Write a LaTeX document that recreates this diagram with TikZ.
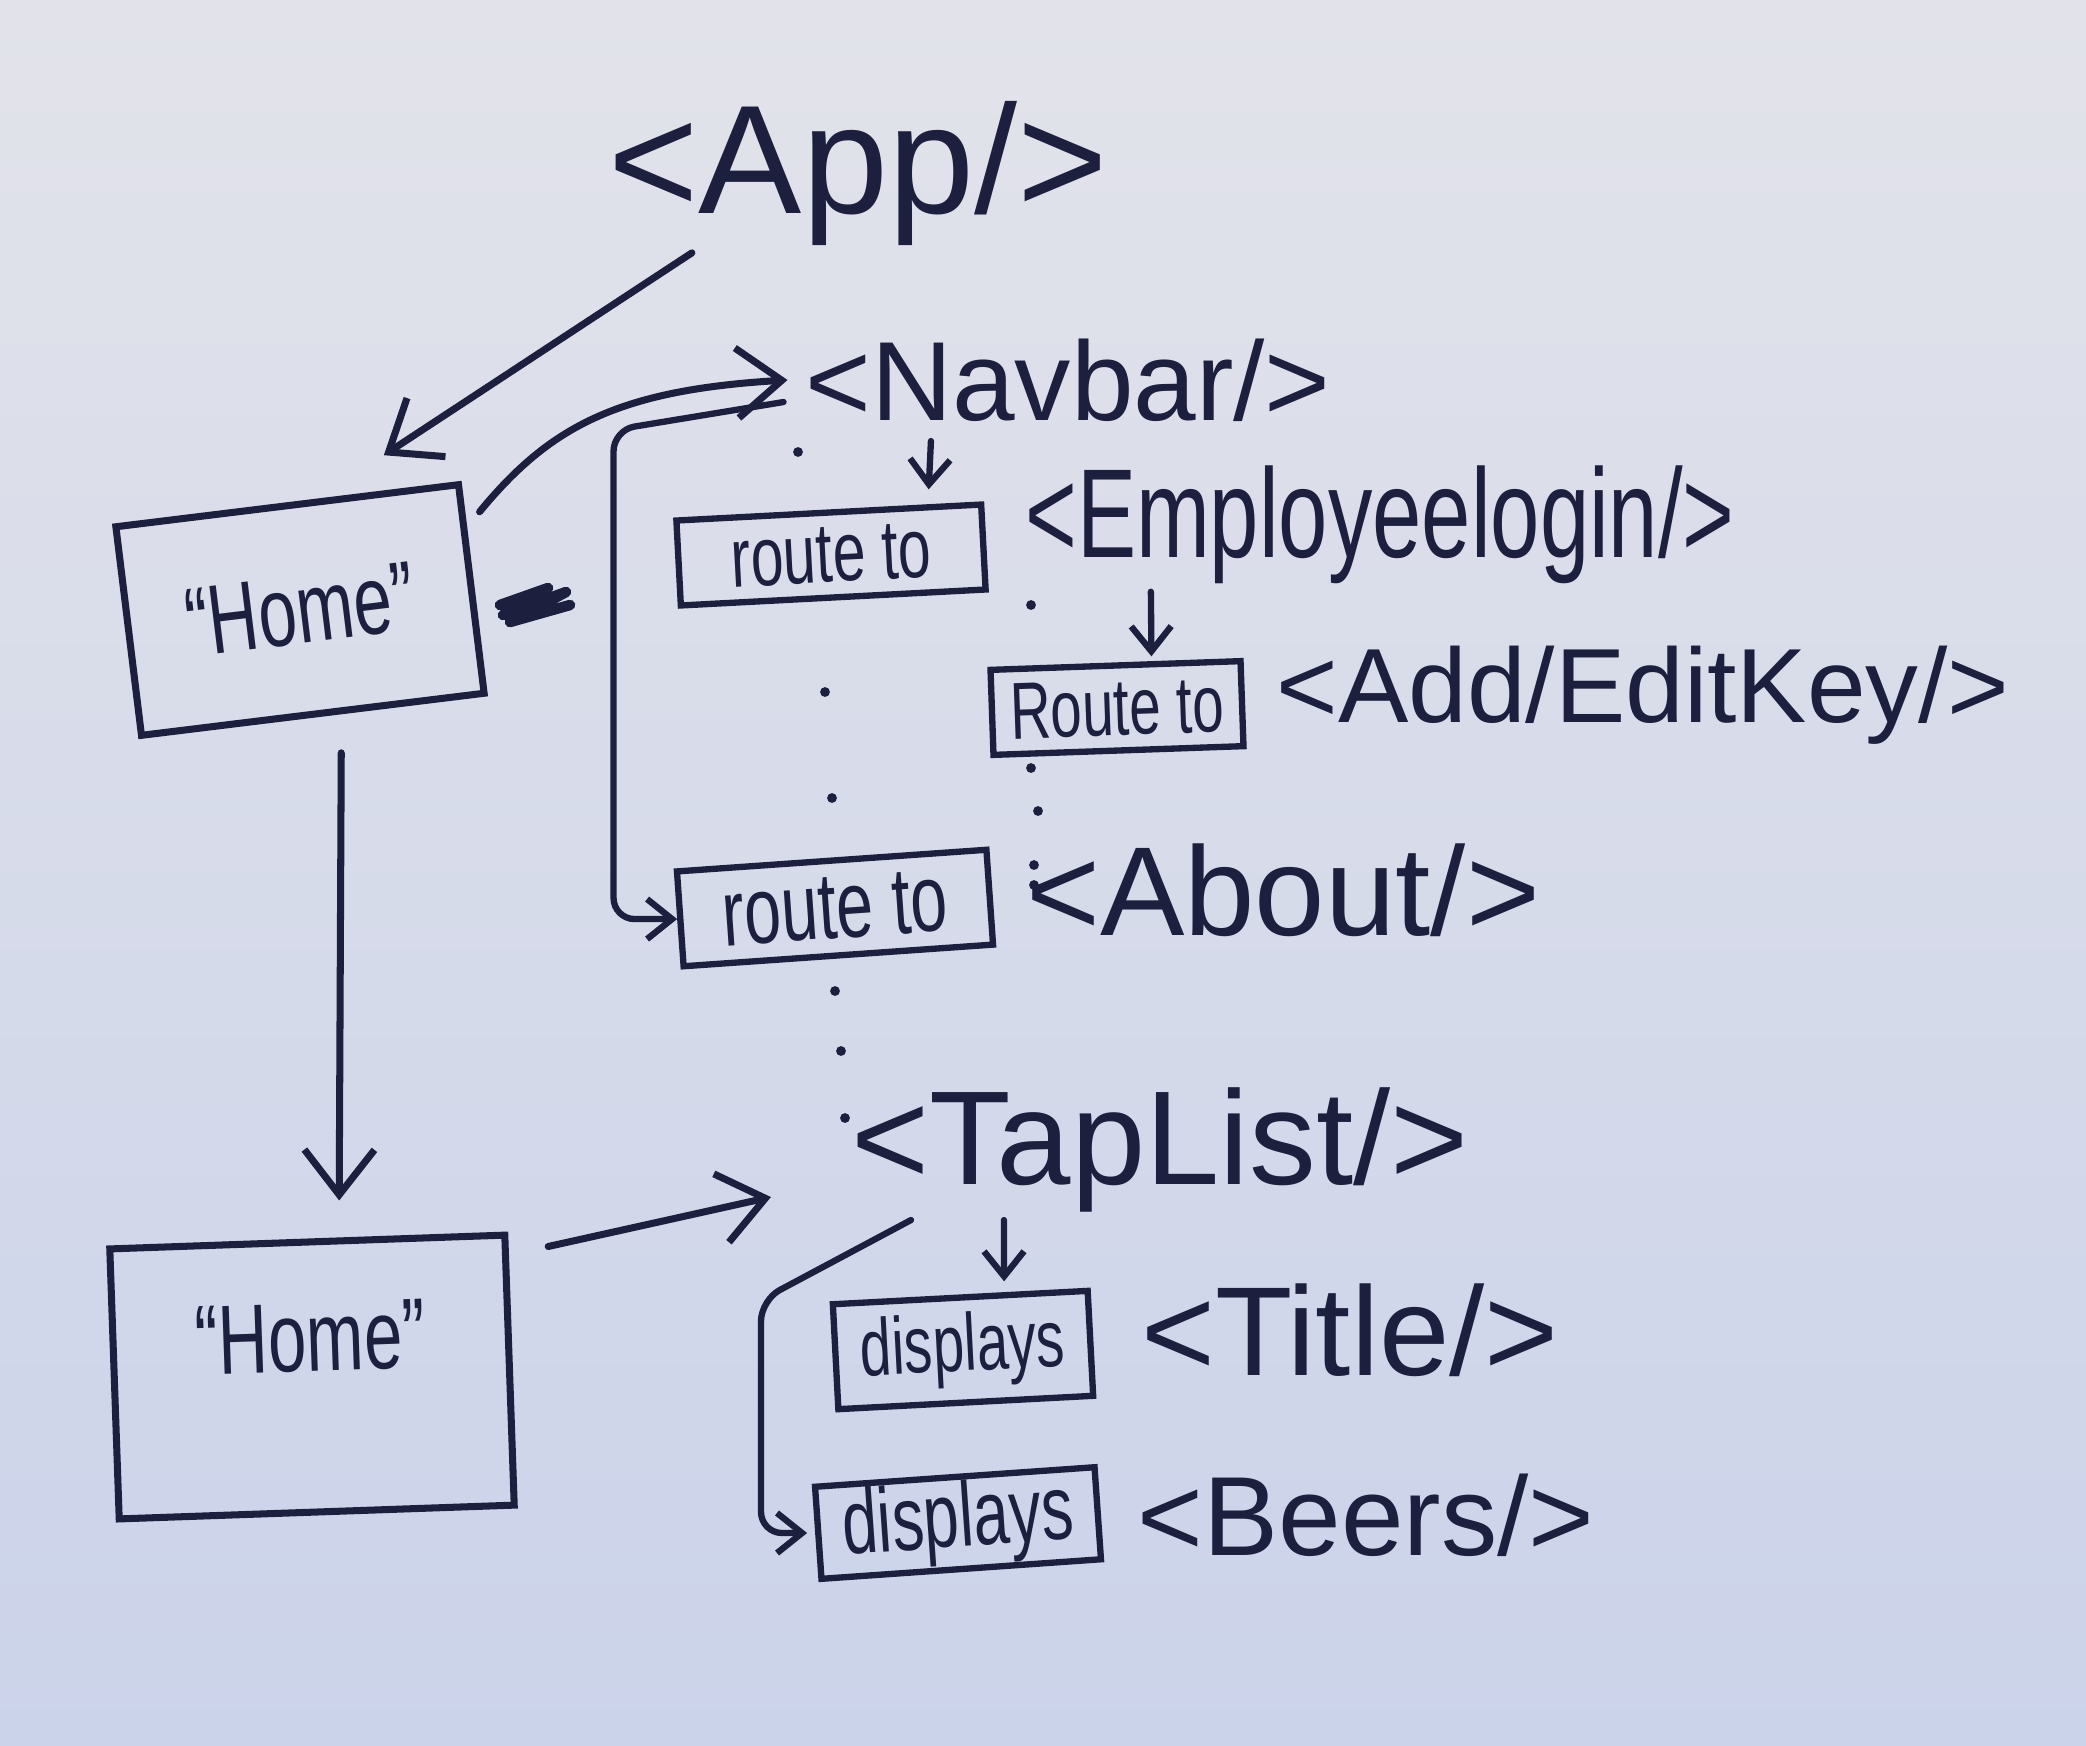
\documentclass[tikz,border=0pt]{standalone}
\usepackage{fontspec}
\setmainfont{Liberation Sans}
\newfontfamily\narrowfont[FakeStretch=0.7]{Liberation Sans}
\usetikzlibrary{arrows.meta}
\definecolor{ink}{RGB}{28,32,62}
\definecolor{paperhi}{RGB}{226,227,234}
\definecolor{paperlo}{RGB}{203,211,234}
\tikzset{
  comp/.style={text=ink, inner sep=2pt, font=\fontsize{#1}{#1}\selectfont},
  narrow/.style={text=ink, inner sep=2pt, font=\narrowfont\fontsize{#1}{#1}\selectfont},
  routebox/.style={draw=ink, text=ink, line width=1.8pt, inner sep=1pt, font=\narrowfont\fontsize{#1}{#1}\selectfont},
  homebox/.style={draw=ink, text=ink, line width=2pt, font=\narrowfont\fontsize{28}{28}\selectfont},
  link/.style={draw=ink, line width=2pt, line cap=round, -{Straight Barb[length=4.5mm,width=7mm]}},
  hop/.style={draw=ink, line width=1.8pt, line cap=round, -{Straight Barb[length=2.5mm,width=4mm]}},
}
\begin{document}
\begin{tikzpicture}[x=0.01cm,y=-0.01cm]
\shade[top color=paperhi,bottom color=paperlo] (0,0) rectangle (2086,1745);
\useasboundingbox (0,0) rectangle (2086,1745);

% components
\node[comp=44] (App) at (858,173) {<App/>};
\node[comp=32] (Navbar) at (1068,380) {<Navbar/>};
\node[narrow=36] (EmpLogin) at (1380,525) {<Employeelogin/>};
\node[comp=30] (AddEdit) at (1643,695) {<Add/EditKey/>};
\node[comp=36] (About) at (1283,890) {<About/>};
\node[comp=38] (TapList) at (1160,1150) {<TapList/>};
\node[comp=36] (Title) at (1350,1330) {<Title/>};
\node[comp=32] (Beers) at (1366,1515) {<Beers/>};

% pages
\node[homebox, minimum width=3.45cm, minimum height=2.1cm, rotate=7] (home1) at (300,610) {“Home”};
\node[homebox, minimum width=3.95cm, minimum height=2.7cm, text depth=0.8cm, rotate=2] (home2) at (312,1377) {“Home”};

% route / display boxes
\node[routebox=24, minimum width=3.05cm, minimum height=0.85cm, rotate=3] (route1) at (831,555) {route to};
\node[routebox=23, minimum width=2.5cm, minimum height=0.85cm, rotate=2] (route2) at (1117,708) {Route to};
\node[routebox=27, minimum width=3.1cm, minimum height=0.95cm, rotate=4] (route3) at (835,908) {route to};
\node[routebox=23, minimum width=2.55cm, minimum height=1.05cm, rotate=3] (disp1) at (963,1350) {displays};
\node[routebox=26, minimum width=2.8cm, minimum height=0.9cm, rotate=4] (disp2) at (958,1523) {displays};

% connectors
\draw[link] ([xshift=-1.66cm]App.south) -- ([xshift=0.97cm,yshift=0.47cm]home1.north);
\draw[link] ([xshift=0.18cm,yshift=-0.31cm]home1.north east) .. controls +(70,-85) and +(-170,10) .. ([xshift=-0.1cm]Navbar.west);
\draw[hop, rounded corners=6pt] ([xshift=-0.14cm,yshift=-0.22cm]Navbar.west) -- ++(-170,28) |- (route3.west);
\draw[hop] ([xshift=-1.37cm,yshift=-0.12cm]Navbar.south) -- ([xshift=1cm,yshift=0.2cm]route1.north);
\draw[hop] ([xshift=-2.29cm]EmpLogin.south) -- ([xshift=0.36cm,yshift=0.06cm]route2.north);
\draw[link] ([xshift=0.28cm,yshift=-0.35cm]home1.south) -- ([xshift=0.32cm,yshift=0.38cm]home2.north);
\draw[link] ([xshift=0.4cm,yshift=-0.15cm]home2.north east) -- ([xshift=-0.73cm,yshift=-0.47cm]TapList.west);
\draw[hop] ([xshift=-1.56cm]TapList.south) -- ([xshift=0.44cm,yshift=0.13cm]disp1.north);
\draw[hop, rounded corners=6pt] ([xshift=0.67cm]TapList.south west) -- ++(-150,80) |- ([xshift=-0.08cm]disp2.west);

% dotted guides and the crossed-out mark
\foreach \p in {(798,452),(825,692),(832,798),(835,991),(841,1051),(845,1118),(1031,605),(1031,768),(1038,811),(1034,865),(1034,885)}
  \fill[ink] \p circle (1.4pt);
\draw[ink, line width=3pt, line cap=round, line join=round] (500,605) -- (548,588) -- (503,615) -- (566,592) -- (510,622) -- (570,605);
\end{tikzpicture}
\end{document}
